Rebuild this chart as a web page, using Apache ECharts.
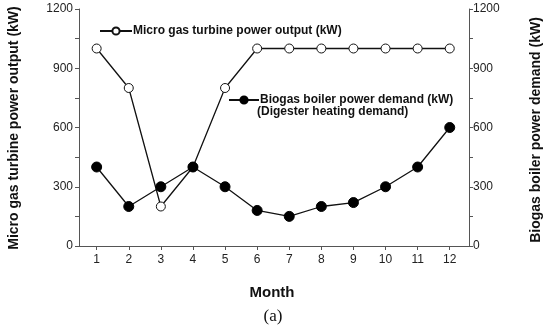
<!DOCTYPE html>
<html><head><meta charset="utf-8">
<script src="https://cdn.jsdelivr.net/npm/echarts@6/dist/echarts.min.js"></script>
<style>html,body{margin:0;padding:0;background:#fff}#c{width:550px;height:329px}</style>
</head><body><div id="c"></div>
<script>
const months = [1,2,3,4,5,6,7,8,9,10,11,12];
const turbineOutput = [1000,800,200,400,800,1000,1000,1000,1000,1000,1000,1000];
const boilerDemand = [400,200,300,400,300,180,150,200,220,300,400,600];
const yTicks = [0,300,600,900,1200];
const turbineName = 'Micro gas turbine power output (kW)';
const boilerName = 'Biogas boiler power demand (kW)';

const chart = echarts.init(document.getElementById('c'), null, {renderer:'canvas'});
const lab = {color:'#222', fontSize:12, fontFamily:'Liberation Sans, Arial, sans-serif'};
const fmt = v => String(v);
chart.setOption({
  animation:false,
  grid:{left:79, right:81, top:9, bottom:83, show:false},
  xAxis:[{
    type:'value', min:0.45, max:12.6, position:'bottom',
    axisLine:{lineStyle:{color:'#555', width:1}},
    axisTick:{show:true, customValues:months, length:4, lineStyle:{color:'#555'}},
    axisLabel:Object.assign({customValues:months, margin:8}, lab),
    splitLine:{show:false}
  },{
    type:'value', min:0.45, max:12.6, position:'top',
    axisLine:{lineStyle:{color:'#555', width:1}},
    axisTick:{show:true, inside:true, customValues:months, length:4, lineStyle:{color:'#555'}},
    axisLabel:{show:false, customValues:months},
    splitLine:{show:false}
  }],
  yAxis:[{
    type:'value', min:0, max:1200, interval:300, position:'left',
    axisLine:{show:true, lineStyle:{color:'#555'}},
    axisTick:{show:true, length:4, lineStyle:{color:'#555'}},
    minorTick:{show:true, splitNumber:2, length:4, lineStyle:{color:'#555'}},
    axisLabel:Object.assign({margin:6, formatter:fmt, customValues:yTicks}, lab),
    splitLine:{show:false}
  },{
    type:'value', min:0, max:1200, interval:300, position:'right',
    axisLine:{show:true, lineStyle:{color:'#555'}},
    axisTick:{show:true, length:4, lineStyle:{color:'#555'}},
    minorTick:{show:true, splitNumber:2, length:4, lineStyle:{color:'#555'}},
    axisLabel:Object.assign({margin:4, formatter:fmt, customValues:yTicks}, lab),
    splitLine:{show:false}
  }],
  legend:[{
    data:[turbineName], left:94, top:20, itemWidth:32, itemHeight:9, itemGap:0,
    textStyle:{fontSize:12, fontWeight:'bold', color:'#111', fontFamily:'Liberation Sans, Arial, sans-serif', padding:[0,0,0,-4]}
  },{
    data:[boilerName], left:223, top:89, itemWidth:30, itemHeight:9,
    textStyle:{fontSize:12, fontWeight:'bold', color:'#111', fontFamily:'Liberation Sans, Arial, sans-serif', padding:[0,0,0,-4]}
  }],
  graphic:[
    {type:'text', left:257, top:106, style:{text:'(Digester heating demand)', font:'bold 12px "Liberation Sans", Arial, sans-serif', fill:'#111'}},
    {type:'text', x:14, y:128, rotation:Math.PI/2, style:{text:'Micro gas turbine power output (kW)', font:'bold 14px "Liberation Sans", Arial, sans-serif', fill:'#111', align:'center', verticalAlign:'middle'}},
    {type:'text', x:536, y:130, rotation:Math.PI/2, style:{text:'Biogas boiler power demand (kW)', font:'bold 14px "Liberation Sans", Arial, sans-serif', fill:'#111', align:'center', verticalAlign:'middle'}},
    {type:'text', x:272, y:293, style:{text:'Month', font:'bold 15px "Liberation Sans", Arial, sans-serif', fill:'#111', align:'center', verticalAlign:'middle'}},
    {type:'text', x:273, y:317, style:{text:'(a)', font:'17px "Liberation Serif", serif', fill:'#111', align:'center', verticalAlign:'middle'}}
  ],
  series:[{
    name:turbineName, type:'line', xAxisIndex:0, yAxisIndex:0,
    data:months.map((m,i)=>[m, turbineOutput[i]]),
    symbol:'circle', symbolSize:9, showAllSymbol:true,
    lineStyle:{color:'#111', width:1.3},
    itemStyle:{color:'#fff', borderColor:'#111', borderWidth:1},
    z:2
  },{
    name:boilerName, type:'line', xAxisIndex:0, yAxisIndex:1,
    data:months.map((m,i)=>[m, boilerDemand[i]]),
    symbol:'circle', symbolSize:10, showAllSymbol:true,
    lineStyle:{color:'#111', width:1.3},
    itemStyle:{color:'#000', borderColor:'#000', borderWidth:1},
    z:3
  }]
});
</script></body></html>
